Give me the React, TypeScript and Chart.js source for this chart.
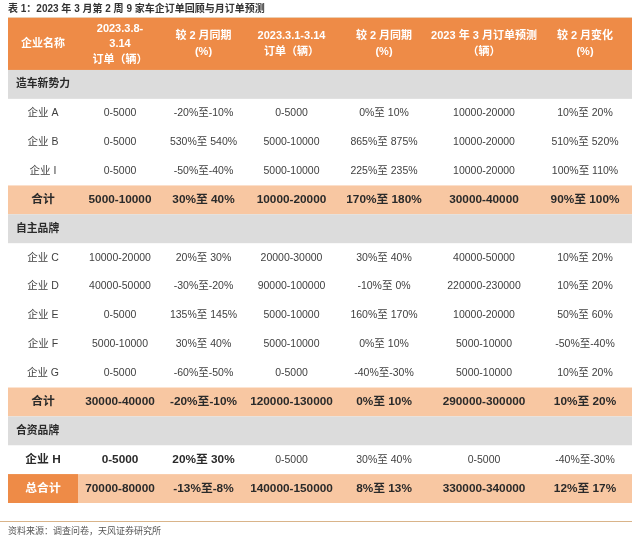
import React, { useEffect, useRef } from 'react';
import { Chart, registerables } from 'chart.js';

Chart.register(...registerables);

// ---------- content ----------
const TITLE = '表 1：2023 年 3 月第 2 周 9 家车企订单回顾与月订单预测';
const SOURCE = '资料来源：调查问卷，天风证券研究所';

const HEADERS: string[][] = [
  ['企业名称'],
  ['2023.3.8-', '3.14', '订单（辆）'],
  ['较 2 月同期', '(%)'],
  ['2023.3.1-3.14', '订单（辆）'],
  ['较 2 月同期', '(%)'],
  ['2023 年 3 月订单预测', '（辆）'],
  ['较 2 月变化', '(%)'],
];

const ROW_LABELS = ['造车新势力', '企业 A', '企业 B', '企业 I', '合计', '自主品牌', '企业 C', '企业 D', '企业 E', '企业 F', '企业 G', '合计', '合资品牌', '企业 H', '总合计'];
const ROW_KIND = ['group', 'item', 'item', 'item', 'total', 'group', 'item', 'item', 'item', 'item', 'item', 'total', 'group', 'boldItem', 'grand'];

const WEEK_ORDERS = ['', '0-5000', '0-5000', '0-5000', '5000-10000', '', '10000-20000', '40000-50000', '0-5000', '5000-10000', '0-5000', '30000-40000', '', '0-5000', '70000-80000'];
const WEEK_YOY = ['', '-20%至-10%', '530%至 540%', '-50%至-40%', '30%至 40%', '', '20%至 30%', '-30%至-20%', '135%至 145%', '30%至 40%', '-60%至-50%', '-20%至-10%', '', '20%至 30%', '-13%至-8%'];
const PERIOD_ORDERS = ['', '0-5000', '5000-10000', '5000-10000', '10000-20000', '', '20000-30000', '90000-100000', '5000-10000', '5000-10000', '0-5000', '120000-130000', '', '0-5000', '140000-150000'];
const PERIOD_YOY = ['', '0%至 10%', '865%至 875%', '225%至 235%', '170%至 180%', '', '30%至 40%', '-10%至 0%', '160%至 170%', '0%至 10%', '-40%至-30%', '0%至 10%', '', '30%至 40%', '8%至 13%'];
const MARCH_FORECAST = ['', '10000-20000', '10000-20000', '10000-20000', '30000-40000', '', '40000-50000', '220000-230000', '10000-20000', '5000-10000', '5000-10000', '290000-300000', '', '0-5000', '330000-340000'];
const MARCH_CHANGE = ['', '10%至 20%', '510%至 520%', '100%至 110%', '90%至 100%', '', '10%至 20%', '10%至 20%', '50%至 60%', '-50%至-40%', '10%至 20%', '10%至 20%', '', '-40%至-30%', '12%至 17%'];

const COLUMNS = [ROW_LABELS, WEEK_ORDERS, WEEK_YOY, PERIOD_ORDERS, PERIOD_YOY, MARCH_FORECAST, MARCH_CHANGE];

// ---------- layout / style ----------
const COL_W = [70, 84, 83, 93, 92, 108, 94];
const HEADER_H = 1.8;
const ROW_H = 1;
const FONT = '"Liberation Sans", "Noto Sans CJK SC", sans-serif';
const C_HEADER = '#EE8B47';
const C_TOTAL = '#F8C7A2';
const C_GROUP = '#DCDCDC';
const C_TEXT = '#3f3f3f';
const C_BOLD = '#2a2a2a';

const tablePlugin = {
  id: 'tablePlugin',
  afterDraw(chart: any) {
    const { ctx, chartArea } = chart;
    const xs = chart.scales.x;
    const ys = chart.scales.y;
    const colEdges: number[] = [0];
    COL_W.forEach((w) => colEdges.push(colEdges[colEdges.length - 1] + w));
    const total = colEdges[colEdges.length - 1];
    const px = (v: number) => xs.getPixelForValue(v);
    const py = (v: number) => ys.getPixelForValue(v);

    ctx.save();
    // title
    ctx.fillStyle = '#333';
    ctx.font = `bold 10px ${FONT}`;
    ctx.textAlign = 'left';
    ctx.textBaseline = 'middle';
    ctx.fillText(TITLE, px(0), chartArea.top - 9);
    // top rule
    ctx.strokeStyle = '#EBCFB2';
    ctx.lineWidth = 1;
    ctx.beginPath();
    ctx.moveTo(px(0), chartArea.top - 0.5);
    ctx.lineTo(px(total), chartArea.top - 0.5);
    ctx.stroke();

    // header
    ctx.fillStyle = C_HEADER;
    ctx.fillRect(px(0), py(0), px(total) - px(0), py(HEADER_H) - py(0));
    ctx.fillStyle = '#fff';
    ctx.font = `bold 11px ${FONT}`;
    ctx.textAlign = 'center';
    HEADERS.forEach((lines, c) => {
      const cx = (px(colEdges[c]) + px(colEdges[c + 1])) / 2;
      const cy = (py(0) + py(HEADER_H)) / 2;
      const lh = 15.5;
      lines.forEach((t, i) => {
        ctx.fillText(t, cx, cy + (i - (lines.length - 1) / 2) * lh);
      });
    });

    // body
    ROW_LABELS.forEach((_, r) => {
      const top = HEADER_H + r * ROW_H;
      const y0 = py(top);
      const y1 = py(top + ROW_H);
      const cy = (y0 + y1) / 2;
      const kind = ROW_KIND[r];
      if (kind === 'group') {
        ctx.fillStyle = C_GROUP;
        ctx.fillRect(px(0), y0, px(total) - px(0), y1 - y0);
        ctx.fillStyle = C_BOLD;
        ctx.font = `bold 10.8px ${FONT}`;
        ctx.textAlign = 'left';
        ctx.fillText(ROW_LABELS[r], px(0) + 8, cy);
        return;
      }
      if (kind === 'total' || kind === 'grand') {
        ctx.fillStyle = C_TOTAL;
        ctx.fillRect(px(0), y0, px(total) - px(0), y1 - y0);
      }
      if (kind === 'grand') {
        ctx.fillStyle = C_HEADER;
        ctx.fillRect(px(colEdges[0]), y0, px(colEdges[1]) - px(colEdges[0]), y1 - y0);
      }
      ctx.textAlign = 'center';
      COLUMNS.forEach((col, c) => {
        const cx = (px(colEdges[c]) + px(colEdges[c + 1])) / 2;
        const bold = kind === 'total' || kind === 'grand' || (kind === 'boldItem' && c <= 2);
        ctx.font = bold ? `bold 11.8px ${FONT}` : `10.5px ${FONT}`;
        ctx.fillStyle = kind === 'grand' && c === 0 ? '#fff' : bold ? C_BOLD : C_TEXT;
        ctx.fillText(col[r], cx, cy);
      });
    });

    // bottom rule and source
    const bottom = py(HEADER_H + ROW_LABELS.length * ROW_H);
    ctx.strokeStyle = '#D9B48A';
    ctx.beginPath();
    ctx.moveTo(0, bottom + 18.5);
    ctx.lineTo(px(total), bottom + 18.5);
    ctx.stroke();
    ctx.fillStyle = '#555';
    ctx.font = `9px ${FONT}`;
    ctx.textAlign = 'left';
    ctx.fillText(SOURCE, px(0), bottom + 29);
    ctx.restore();
  },
};

export default function App() {
  const ref = useRef<HTMLCanvasElement>(null);
  useEffect(() => {
    if (!ref.current) return;
    const totalW = COL_W.reduce((a, b) => a + b, 0);
    const totalH = HEADER_H + ROW_LABELS.length * ROW_H;
    const chart = new Chart(ref.current, {
      type: 'scatter',
      data: { datasets: [{ data: [], pointRadius: 0 }] },
      options: {
        animation: false,
        responsive: false,
        events: [],
        layout: { padding: { left: 8, right: 8, top: 18, bottom: 37 } },
        plugins: { legend: { display: false }, tooltip: { enabled: false }, title: { display: false } },
        scales: {
          x: { type: 'linear', min: 0, max: totalW, display: false },
          y: { type: 'linear', min: 0, max: totalH, reverse: true, display: false },
        },
      },
      plugins: [tablePlugin],
    });
    return () => chart.destroy();
  }, []);
  return (
    <div style={{ position: 'absolute', left: 0, top: 0, width: 640, height: 540, background: '#fff' }}>
      <canvas ref={ref} width={640} height={540} style={{ display: 'block' }} />
    </div>
  );
}
